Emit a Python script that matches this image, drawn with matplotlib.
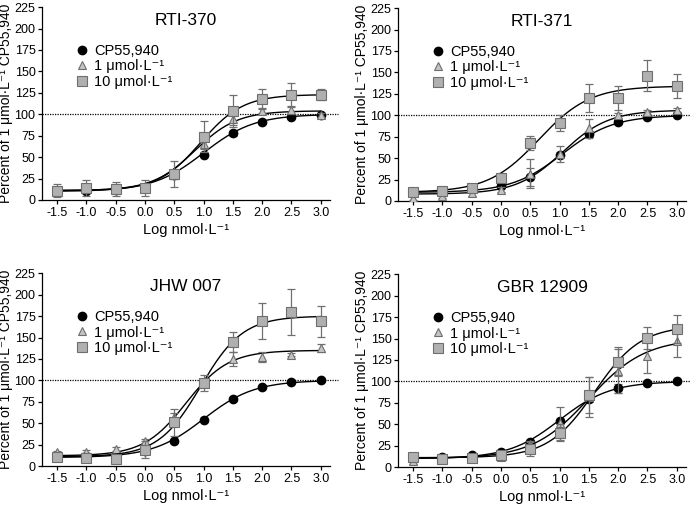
import numpy as np
import matplotlib
matplotlib.use('Agg')
import matplotlib.pyplot as plt
from matplotlib.lines import Line2D

plt.rcParams['font.family'] = ['Liberation Sans', 'DejaVu Sans']

# ----------------------------------------
# data
# ----------------------------------------
log_conc = [-1.5, -1.0, -0.5, 0.0, 0.5, 1.0, 1.5, 2.0, 2.5, 3.0]
titles = ['RTI-370', 'RTI-371', 'JHW 007', 'GBR 12909']
series_labels = ['CP55,940', '1 \u03bcmol\u00b7L\u207b\u00b9', '10 \u03bcmol\u00b7L\u207b\u00b9']

# RTI-370
rti370_cp = [11, 11, 12, 14, 29, 53, 78, 91, 97, 99]
rti370_cp_err = [2, 2, 2, 2, 2, 2, 3, 2, 1, 1]
rti370_1 = [12, 13, 13, 15, 29, 65, 94, 104, 105, 99]
rti370_1_err = [3, 3, 3, 3, 4, 5, 7, 3, 5, 2]
rti370_10 = [11, 14, 13, 14, 30, 74, 104, 118, 123, 123]
rti370_10_err = [8, 9, 8, 9, 15, 18, 19, 12, 14, 6]

# RTI-371
rti371_cp = [11, 12, 14, 18, 28, 54, 78, 92, 98, 100]
rti371_cp_err = [2, 2, 2, 2, 11, 3, 3, 2, 1, 1]
rti371_1 = [4, 6, 9, 13, 32, 55, 85, 100, 104, 106]
rti371_1_err = [3, 3, 3, 3, 17, 9, 11, 3, 2, 2]
rti371_10 = [10, 12, 15, 27, 68, 91, 120, 120, 146, 134]
rti371_10_err = [3, 3, 3, 4, 8, 9, 16, 14, 18, 14]

# JHW 007
jhw_cp = [11, 12, 13, 18, 29, 54, 78, 92, 98, 100]
jhw_cp_err = [1, 1, 1, 2, 2, 2, 2, 2, 1, 1]
jhw_1 = [16, 17, 20, 29, 57, 98, 125, 127, 130, 138]
jhw_1_err = [2, 2, 2, 3, 5, 4, 8, 6, 2, 5]
jhw_10 = [11, 10, 8, 19, 51, 97, 145, 169, 180, 169]
jhw_10_err = [3, 3, 3, 10, 16, 9, 12, 21, 27, 18]

# GBR 12909
gbr_cp = [11, 12, 14, 18, 29, 54, 79, 92, 98, 100]
gbr_cp_err = [1, 1, 1, 2, 2, 2, 3, 5, 1, 1]
gbr_1 = [7, 8, 12, 12, 27, 51, 82, 112, 130, 147]
gbr_1_err = [3, 3, 3, 3, 4, 19, 23, 26, 20, 19]
gbr_10 = [12, 10, 11, 14, 21, 40, 84, 123, 151, 161]
gbr_10_err = [3, 3, 3, 4, 8, 10, 21, 17, 13, 16]

# sigmoid fit parameters: bottom, top, logEC50, hill
fit_cp = [[10, 100, 1.0, 1.0], [10, 100, 1.05, 1.0], [10, 100, 1.0, 1.0], [10, 100, 1.0, 1.0]]
fit_1 = [[11, 104, 0.85, 1.2], [8, 106, 1.05, 1.1], [12, 135, 0.7, 1.2], [10, 150, 1.5, 0.9]]
fit_10 = [[11, 123, 0.95, 1.2], [10, 134, 0.65, 1.0], [11, 175, 0.95, 1.2], [11, 165, 1.6, 1.1]]

panels = [
    (rti370_cp, rti370_cp_err, rti370_1, rti370_1_err, rti370_10, rti370_10_err),
    (rti371_cp, rti371_cp_err, rti371_1, rti371_1_err, rti371_10, rti371_10_err),
    (jhw_cp, jhw_cp_err, jhw_1, jhw_1_err, jhw_10, jhw_10_err),
    (gbr_cp, gbr_cp_err, gbr_1, gbr_1_err, gbr_10, gbr_10_err),
]

# axes rectangles (figure fractions)
positions = [
    [0.0615, 0.604, 0.4154, 0.382],
    [0.5767, 0.602, 0.4154, 0.382],
    [0.0615, 0.077, 0.4154, 0.382],
    [0.5767, 0.075, 0.4154, 0.382],
]


def sigmoid(x, p):
    bottom, top, ec50, hill = p
    return bottom + (top - bottom) / (1 + 10 ** ((ec50 - x) * hill))


fig = plt.figure(figsize=(6.91, 5.05), dpi=100)

x_fit = np.linspace(log_conc[0], log_conc[-1], 200)
styles = [
    dict(marker='o', ms=6, mfc='black', mec='black'),
    dict(marker='^', ms=6, mfc='#c4c4c4', mec='#6e6e6e', mew=0.8),
    dict(marker='s', ms=7, mfc='#b0b0b0', mec='#6e6e6e', mew=0.8),
]
fits = [fit_cp, fit_1, fit_10]

for i, (pos, title, data) in enumerate(zip(positions, titles, panels)):
    ax = fig.add_axes(pos)
    for k in range(3):
        y = data[2 * k]
        err = data[2 * k + 1]
        ax.plot(x_fit, sigmoid(x_fit, fits[k][i]), color='black', lw=1.0, zorder=2 + k)
        ax.errorbar(log_conc, y, yerr=err, fmt='none', ecolor='#707070', elinewidth=0.9,
                    capsize=3, capthick=0.9, zorder=2 + k)
        ax.plot(log_conc, y, ls='none', zorder=3 + k, **styles[k])

    ax.axhline(100, xmin=0, xmax=1.03, color='black', lw=0.9, ls=(0, (1, 1)), clip_on=False, zorder=1)

    ax.set_xlim(-1.75, 3.15)
    ax.set_ylim(0, 225)
    ax.set_xticks(log_conc)
    ax.set_xticklabels(['%.1f' % v for v in log_conc])
    ax.set_yticks(np.arange(0, 226, 25))
    ax.tick_params(labelsize=9, length=3, width=0.9, pad=2)
    for s in ['top', 'right']:
        ax.spines[s].set_visible(False)
    for s in ['left', 'bottom']:
        ax.spines[s].set_linewidth(0.9)

    ax.set_xlabel('Log nmol\u00b7L\u207b\u00b9', fontsize=10.5, labelpad=3)
    ax.set_ylabel('Percent of 1 \u03bcmol\u00b7L\u207b\u00b9 CP55,940', fontsize=10, labelpad=1)
    ax.text(0.5, 0.93, title, transform=ax.transAxes, ha='center', va='center', fontsize=12.5)

    handles = [Line2D([], [], ls='none', **styles[k]) for k in range(3)]
    ax.legend(handles, series_labels, loc='upper left', bbox_to_anchor=(0.08, 0.86),
              frameon=False, fontsize=10.5, handlelength=0.8, handletextpad=0.45,
              labelspacing=0.08, borderpad=0.2)

fig.savefig('out.png', dpi=100)
